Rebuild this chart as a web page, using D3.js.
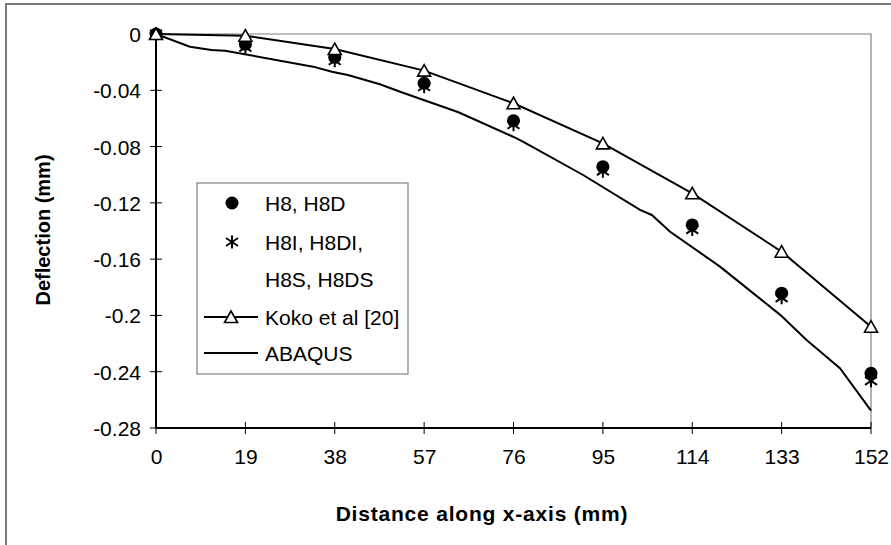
<!DOCTYPE html>
<html>
<head>
<meta charset="utf-8">
<script src="https://cdn.jsdelivr.net/npm/d3@7"></script>
<style>
  body { margin: 0; background: #fff; }
  text { font-family: "Liberation Sans", Arial, sans-serif; fill: #000; }
</style>
</head>
<body>
<div id="chart"></div>
<script>
const WIDTH = 891, HEIGHT = 545;
const margin = {top: 34, right: 20, bottom: 117, left: 156};

// data
const stations = [0, 19, 38, 57, 76, 95, 114, 133, 152];
const h8 = [0, -0.0073, -0.0166, -0.035, -0.0616, -0.0943, -0.1357, -0.1842, -0.2411];
const h8i = [0, -0.0095, -0.019, -0.0375, -0.0645, -0.0975, -0.139, -0.1875, -0.2465];
const koko = [0, -0.0012, -0.0107, -0.026, -0.0492, -0.0777, -0.1132, -0.1547, -0.208];
const abaqusX = [0, 7.2, 11.8, 14.7, 33.4, 37.4, 40.8, 47.6, 51.9, 64.3, 75.9, 78.0,
  90.8, 102.9, 105.4, 109.3, 119.9, 132.7, 138.3, 145.4, 152];
const abaqusY = [0, -0.009, -0.0114, -0.0119, -0.0232, -0.0268, -0.0291, -0.0357, -0.041,
  -0.0556, -0.073, -0.0765, -0.1002, -0.125, -0.1286, -0.1405, -0.1653, -0.1996,
  -0.2174, -0.2375, -0.2676];
const yTicks = [0, -0.04, -0.08, -0.12, -0.16, -0.2, -0.24, -0.28];
const yTickLabels = ["0", "-0.04", "-0.08", "-0.12", "-0.16", "-0.2", "-0.24", "-0.28"];

let svg = d3.select("#chart")
  .append("svg")
  .attr("width", WIDTH)
  .attr("height", HEIGHT);

// outer chart border (runs off the bottom/right edge)
svg.append("rect")
  .attr("x", 6).attr("y", 4)
  .attr("width", WIDTH + 20).attr("height", HEIGHT + 20)
  .attr("fill", "none")
  .attr("stroke", "#5a5a5a")
  .attr("stroke-width", 1.6);

let w = WIDTH - margin.left - margin.right; // 715
let h = HEIGHT - margin.top - margin.bottom; // 394

let g = svg.append("g")
  .attr("transform", `translate(${margin.left},${margin.top})`);

let x = d3.scaleLinear().domain([0, 152]).range([0, w]);
let y = d3.scaleLinear().domain([-0.28, 0]).range([h, 0]);

// plot area frame (top & right in grey)
g.append("path")
  .attr("d", `M0,0H${w}V${h}`)
  .attr("fill", "none")
  .attr("stroke", "#808080")
  .attr("stroke-width", 1.2);

// axes
let yAxis = g.append("g")
  .call(d3.axisLeft(y).tickValues(yTicks).tickSize(0)
    .tickFormat((d, i) => yTickLabels[i]).tickPadding(15));
yAxis.select(".domain").remove();
yAxis.selectAll("text").style("font-size", "21px").attr("dy", "0.36em");

let xAxis = g.append("g")
  .attr("transform", `translate(0,${h})`)
  .call(d3.axisBottom(x).tickValues(stations).tickSize(0).tickPadding(22));
xAxis.select(".domain").remove();
xAxis.selectAll("text").style("font-size", "21px").attr("dy", "0.68em");

// cross tick marks
g.selectAll(".ytick").data(yTicks).enter().append("line")
  .attr("x1", -6).attr("x2", 6)
  .attr("y1", d => y(d)).attr("y2", d => y(d))
  .attr("stroke", "#000").attr("stroke-width", 1);
g.selectAll(".xtick").data(stations).enter().append("line")
  .attr("x1", d => x(d)).attr("x2", d => x(d))
  .attr("y1", h - 6).attr("y2", h + 6)
  .attr("stroke", "#000").attr("stroke-width", 1);

g.append("line").attr("x1", 0).attr("x2", 0).attr("y1", 0).attr("y2", h)
  .attr("stroke", "#000").attr("stroke-width", 2);
g.append("line").attr("x1", 0).attr("x2", w).attr("y1", h).attr("y2", h)
  .attr("stroke", "#000").attr("stroke-width", 2);

// axis titles
svg.append("text")
  .attr("transform", "translate(50,230) rotate(-90)")
  .style("text-anchor", "middle")
  .style("font-size", "20px")
  .style("font-weight", "bold")
  .text("Deflection (mm)");

svg.append("text")
  .attr("x", 482).attr("y", 521)
  .style("text-anchor", "middle")
  .style("font-size", "21px")
  .style("font-weight", "bold")
  .style("letter-spacing", "0.8px")
  .text("Distance along x-axis (mm)");

// series
let line = d3.line().x(d => x(d[0])).y(d => y(d[1]));

g.append("path")
  .datum(abaqusX.map((d, i) => [d, abaqusY[i]]))
  .attr("d", line)
  .attr("fill", "none").attr("stroke", "#000").attr("stroke-width", 2);

g.append("path")
  .datum(stations.map((d, i) => [d, koko[i]]))
  .attr("d", line)
  .attr("fill", "none").attr("stroke", "#000").attr("stroke-width", 2);

const starPath = "M0,-6.5V6.5M-6,-4L6,4M-6,4L6,-4";
const triPath = "M0,-6L6.5,5.5H-6.5Z";

g.selectAll(".h8").data(stations).enter().append("circle")
  .attr("cx", d => x(d)).attr("cy", (d, i) => y(h8[i]))
  .attr("r", 6.5).attr("fill", "#000");

g.selectAll(".h8i").data(stations).enter().append("path")
  .attr("transform", (d, i) => `translate(${x(d)},${y(h8i[i])})`)
  .attr("d", starPath)
  .attr("fill", "none").attr("stroke", "#000").attr("stroke-width", 2);

g.selectAll(".koko").data(stations).enter().append("path")
  .attr("transform", (d, i) => `translate(${x(d)},${y(koko[i])})`)
  .attr("d", triPath)
  .attr("fill", "#fff").attr("stroke", "#000").attr("stroke-width", 1.6);

// legend
let legend = svg.append("g");
legend.append("rect")
  .attr("x", 197).attr("y", 183).attr("width", 211).attr("height", 191)
  .attr("fill", "#fff").attr("stroke", "#808080").attr("stroke-width", 1.2);

const legendLabels = ["H8, H8D", "H8I, H8DI,", "H8S, H8DS", "Koko et al [20]", "ABAQUS"];
const legendY = [203, 242, 279, 317, 353];

legend.selectAll(".lab").data(legendLabels).enter().append("text")
  .attr("x", 265).attr("y", (d, i) => legendY[i])
  .attr("dy", "0.36em")
  .style("font-size", "21px")
  .text(d => d);

legend.append("circle").attr("cx", 232).attr("cy", legendY[0]).attr("r", 6.5).attr("fill", "#000");
legend.append("path").attr("transform", `translate(232,${legendY[1]})`)
  .attr("d", starPath).attr("fill", "none").attr("stroke", "#000").attr("stroke-width", 2);
legend.append("line").attr("x1", 204).attr("x2", 258)
  .attr("y1", legendY[3]).attr("y2", legendY[3]).attr("stroke", "#000").attr("stroke-width", 2);
legend.append("path").attr("transform", `translate(231,${legendY[3]})`)
  .attr("d", triPath).attr("fill", "#fff").attr("stroke", "#000").attr("stroke-width", 1.6);
legend.append("line").attr("x1", 204).attr("x2", 258)
  .attr("y1", legendY[4]).attr("y2", legendY[4]).attr("stroke", "#000").attr("stroke-width", 2);
</script>
</body>
</html>
